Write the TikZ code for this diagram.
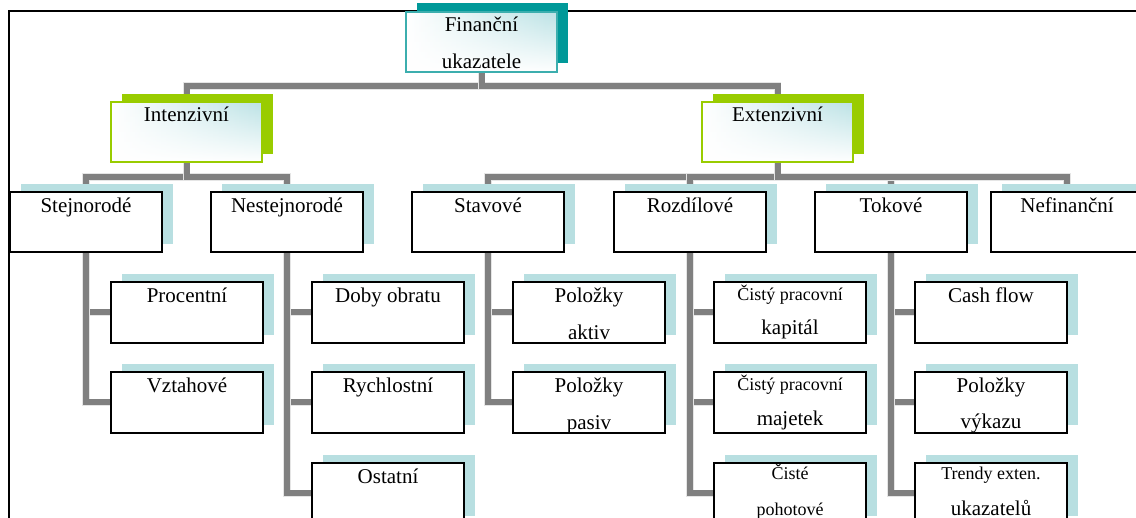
\documentclass[tikz,border=0pt]{standalone}
\usepackage{fontspec}
\setmainfont{Liberation Serif}
\usetikzlibrary{shadows,backgrounds,fadings}

\definecolor{tealDark}{HTML}{009999}
\definecolor{tealLine}{HTML}{3CAEAE}
\definecolor{limeGreen}{HTML}{99CC00}
\definecolor{fadeBlue}{HTML}{BBE2E5}
\definecolor{shadowBlue}{HTML}{B8DFE1}
\definecolor{connGray}{HTML}{808080}

\tikzset{
  base box/.style={anchor=north west, inner sep=0pt, outer sep=0pt},
  % light blue in the upper right corner, white towards left and bottom
  fade fill/.style={left color=white, right color=fadeBlue,
    path picture={\fill[white, path fading=north]
      (path picture bounding box.south west) rectangle
      (path picture bounding box.north east);}},
  rootbox/.style={base box, minimum width=151pt, minimum height=60pt,
    draw=tealLine, line width=2pt, fade fill,
    copy shadow={shadow xshift=11pt, shadow yshift=9pt, fill=tealDark, draw=none}},
  groupbox/.style={base box, minimum width=151pt, minimum height=60pt,
    draw=limeGreen, line width=2.5pt, fade fill,
    copy shadow={shadow xshift=11pt, shadow yshift=8pt, fill=limeGreen, draw=none}},
  kindbox/.style={base box, minimum width=152pt, minimum height=60pt,
    draw=black, line width=1.8pt, fill=white,
    copy shadow={shadow xshift=11pt, shadow yshift=8pt, fill=shadowBlue, draw=none}},
  itembox/.style={kindbox, minimum height=61pt},
  conn/.style={draw=connGray, line width=6pt,
    preaction={draw=black!10, line width=7.5pt}},
  lbl/.style={anchor=base, inner sep=0pt, font=\fontsize{21pt}{21pt}\selectfont},
  sml/.style={lbl, font=\fontsize{18pt}{18pt}\selectfont},
}

\begin{document}
\begin{tikzpicture}[x=1pt, y=1pt]
\useasboundingbox (0,0) rectangle (1136,-518);
\clip (0,0) rectangle (1136,-518);

% page frame
\draw[line width=2pt] (9,-520) -- (9,-11) -- (1140,-11);

% top levels
\node[rootbox]  (root) at (406,-12)  {};
\node[groupbox] (int)  at (111,-102) {};
\node[groupbox] (ext)  at (702,-102) {};

% second level
\node[kindbox] (stej) at (10,-192)  {};
\node[kindbox] (nest) at (211,-192) {};
\node[kindbox] (stav) at (412,-192) {};
\node[kindbox] (rozd) at (614,-192) {};
\node[kindbox] (tok)  at (815,-192) {};
\node[kindbox] (nef)  at (991,-192) {};

% third level
\node[itembox] (proc)  at (111,-282) {};
\node[itembox] (vzt)   at (111,-372) {};
\node[itembox] (doby)  at (312,-282) {};
\node[itembox] (rych)  at (312,-372) {};
\node[itembox] (ost)   at (312,-463) {};
\node[itembox] (aktiv) at (513,-282) {};
\node[itembox] (pasiv) at (513,-372) {};
\node[itembox] (kap)   at (714,-282) {};
\node[itembox] (maj)   at (714,-372) {};
\node[itembox] (poh)   at (714,-463) {};
\node[itembox] (cash)  at (915,-282) {};
\node[itembox] (vyk)   at (915,-372) {};
\node[itembox] (trend) at (915,-463) {};

% labels
\node[lbl] (root-a) at ([yshift=-20pt]root.north) {Finanční};
\node[lbl] (root-b) at ([yshift=-57pt]root.north) {ukazatele};
\node[lbl] (int-t)  at ([yshift=-20pt]int.north)  {Intenzivní};
\node[lbl] (ext-t)  at ([yshift=-20pt]ext.north)  {Extenzivní};

\node[lbl] (stej-t) at ([yshift=-21pt]stej.north) {Stejnorodé};
\node[lbl] (nest-t) at ([yshift=-21pt]nest.north) {Nestejnorodé};
\node[lbl] (stav-t) at ([yshift=-21pt]stav.north) {Stavové};
\node[lbl] (rozd-t) at ([yshift=-21pt]rozd.north) {Rozdílové};
\node[lbl] (tok-t)  at ([yshift=-21pt]tok.north)  {Tokové};
\node[lbl] (nef-t)  at ([yshift=-21pt]nef.north)  {Nefinanční};

\node[lbl] (proc-t) at ([yshift=-21pt]proc.north) {Procentní};
\node[lbl] (vzt-t)  at ([yshift=-21pt]vzt.north)  {Vztahové};
\node[lbl] (doby-t) at ([yshift=-21pt]doby.north) {Doby obratu};
\node[lbl] (rych-t) at ([yshift=-21pt]rych.north) {Rychlostní};
\node[lbl] (ost-t)  at ([yshift=-21pt]ost.north)  {Ostatní};

\node[lbl] (aktiv-a) at ([yshift=-21pt]aktiv.north) {Položky};
\node[lbl] (aktiv-b) at ([yshift=-58pt]aktiv.north) {aktiv};
\node[lbl] (pasiv-a) at ([yshift=-21pt]pasiv.north) {Položky};
\node[lbl] (pasiv-b) at ([yshift=-58pt]pasiv.north) {pasiv};

\node[sml] (kap-a) at ([yshift=-18.5pt]kap.north) {Čistý pracovní};
\node[lbl] (kap-b) at ([yshift=-53pt]kap.north)   {kapitál};
\node[sml] (maj-a) at ([yshift=-18.5pt]maj.north) {Čistý pracovní};
\node[lbl] (maj-b) at ([yshift=-54pt]maj.north)   {majetek};
\node[sml] (poh-a) at ([yshift=-17pt]poh.north)   {Čisté};
\node[sml] (poh-b) at ([yshift=-52pt]poh.north)   {pohotové};

\node[lbl] (cash-t)  at ([yshift=-21pt]cash.north)  {Cash flow};
\node[lbl] (vyk-a)   at ([yshift=-21pt]vyk.north)   {Položky};
\node[lbl] (vyk-b)   at ([yshift=-57pt]vyk.north)   {výkazu};
\node[sml] (trend-a) at ([yshift=-17pt]trend.north) {Trendy exten.};
\node[lbl] (trend-b) at ([yshift=-52pt]trend.north) {ukazatelů};

% connectors, kept behind the boxes
\begin{scope}[on background layer]
  \draw[conn] (root.south) -- ++(0,-14) -| (int.north);
  \draw[conn] (root.south) -- ++(0,-14) -| (ext.north);

  \draw[conn] (int.south) -- ++(0,-15) -| (stej.north);
  \draw[conn] (int.south) -- ++(0,-15) -| (nest.north);
  \draw[conn] (ext.south) -- ++(0,-15) -| (stav.north);
  \draw[conn] (ext.south) -- ++(0,-15) -| (rozd.north);
  \draw[conn] (ext.south) -- ++(0,-15) -| (tok.north);
  \draw[conn] (ext.south) -- ++(0,-15) -| (nef.north);

  \draw[conn] (stej.south) |- (proc.west);
  \draw[conn] (stej.south) |- (vzt.west);
  \draw[conn] (nest.south) |- (doby.west);
  \draw[conn] (nest.south) |- (rych.west);
  \draw[conn] (nest.south) |- (ost.west);
  \draw[conn] (stav.south) |- (aktiv.west);
  \draw[conn] (stav.south) |- (pasiv.west);
  \draw[conn] (rozd.south) |- (kap.west);
  \draw[conn] (rozd.south) |- (maj.west);
  \draw[conn] (rozd.south) |- (poh.west);
  \draw[conn] (tok.south) |- (cash.west);
  \draw[conn] (tok.south) |- (vyk.west);
  \draw[conn] (tok.south) |- (trend.west);
\end{scope}
\end{tikzpicture}
\end{document}
